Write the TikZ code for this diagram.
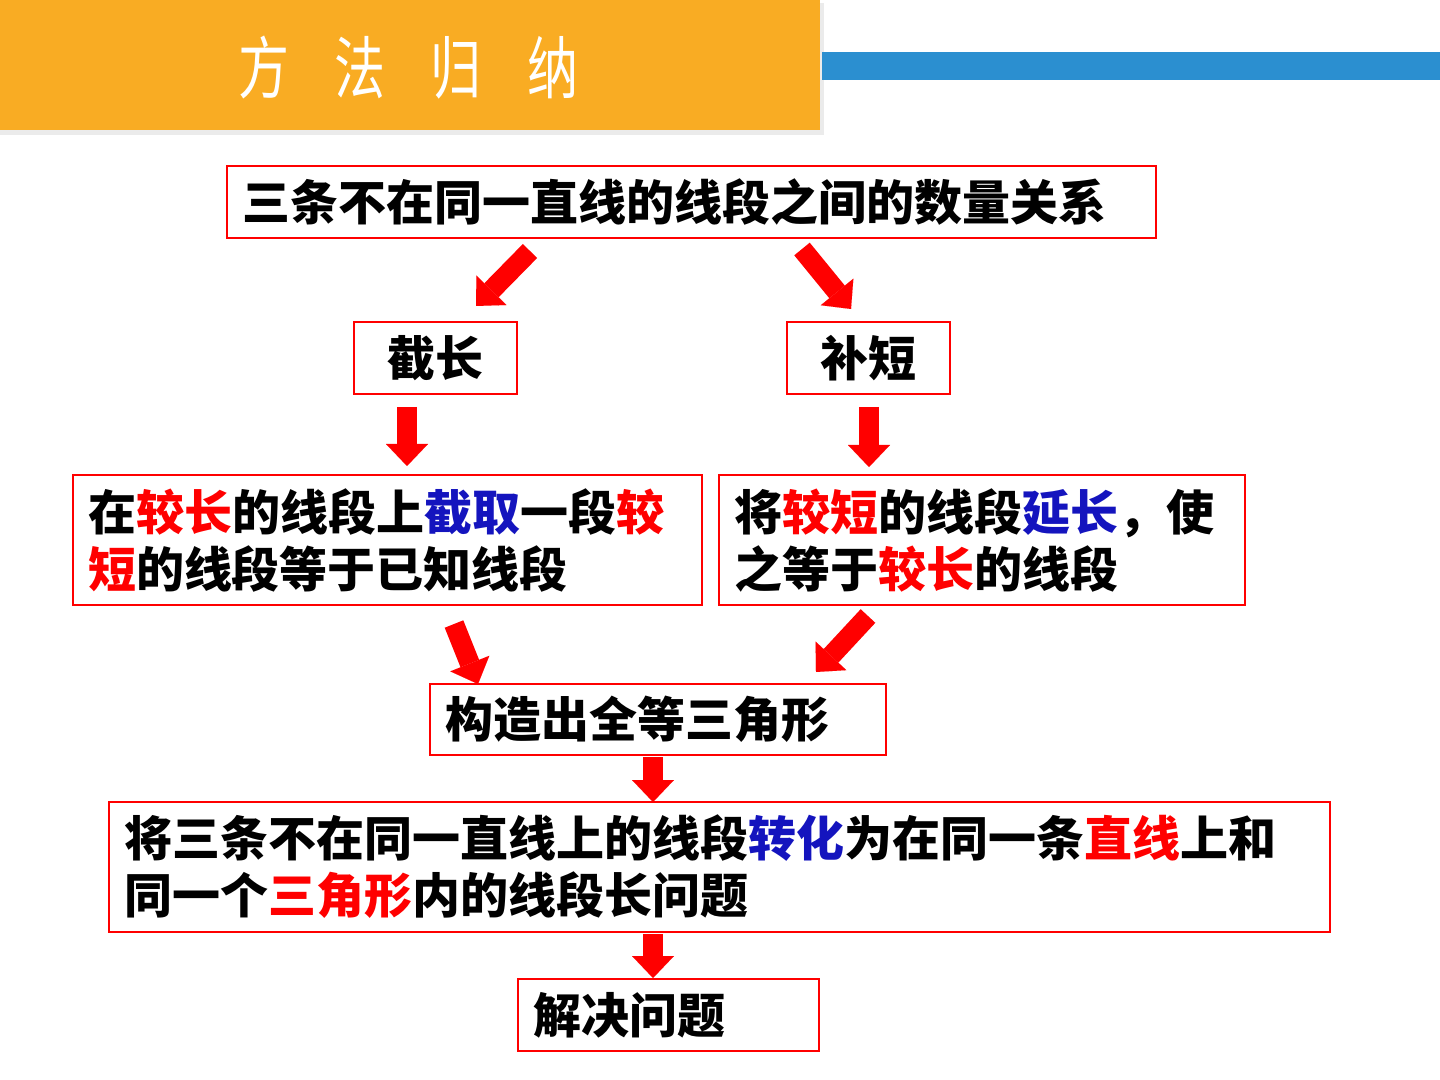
\documentclass[tikz,border=0pt]{standalone}
\usepackage{fontspec}
\setmainfont{Noto Sans CJK SC}
\newfontfamily\cjk{Noto Sans CJK SC}
\usetikzlibrary{arrows.meta}
\definecolor{borange}{RGB}{249,172,35}
\definecolor{bblue}{RGB}{43,143,208}
\definecolor{tred}{RGB}{255,0,0}
\definecolor{tblue}{RGB}{20,20,190}
\newcommand\rd[1]{\textcolor{tred}{#1}}
\newcommand\bl[1]{\textcolor{tblue}{#1}}
\begin{document}
\begin{tikzpicture}[x=0.5pt,y=-0.5pt,
 box/.style={draw=tred, line width=0.75pt, inner xsep=7.5pt, inner ysep=0pt, align=left,
   font=\cjk\bfseries\fontsize{24pt}{28.5pt}\selectfont, text=black},
 barrow/.style={draw=tred, line width=10pt, -{Triangle[width=21pt 0, length=11pt 0, line width=0.01pt]}},
 ttl/.style={text=white, font=\cjk\fontsize{34pt}{34pt}\selectfont, inner sep=0pt}
]
\useasboundingbox (0,0) rectangle (1440,1080);
% header
\fill[black!8] (0,3) rectangle (824,135);
\fill[borange] (0,0) rectangle (820,130);
\fill[bblue] (822,52) rectangle (1440,80);
\node[ttl] (t1) at (264,68) {\scalebox{0.75}[1]{方}};
\node[ttl] (t2) at (360,68) {\scalebox{0.75}[1]{法}};
\node[ttl] (t3) at (456,68) {\scalebox{0.75}[1]{归}};
\node[ttl] (t4) at (553,68) {\scalebox{0.75}[1]{纳}};
% boxes
\node[box, minimum width=464.5pt, minimum height=36pt, text width=449.5pt] (b1) at (691.5,202)
  {三条不在同一直线的线段之间的数量关系};
\node[box, minimum width=81.5pt, minimum height=36pt, align=center, inner xsep=0pt] (b2) at (435.5,358) {截长};
\node[box, minimum width=81.5pt, minimum height=36pt, align=center, inner xsep=0pt] (b3) at (868.5,358) {补短};
\node[box, minimum width=314.5pt, minimum height=65pt, text width=299.5pt] (b4) at (387.5,540)
  {在\rd{较长}的线段上\bl{截取}一段\rd{较}\\\rd{短}的线段等于已知线段};
\node[box, minimum width=263pt, minimum height=65pt, text width=248pt] (b5) at (982,540)
  {将\rd{较短}的线段\bl{延长}，使\\之等于\rd{较长}的线段};
\node[box, minimum width=228pt, minimum height=35.5pt, text width=213pt] (b6) at (658,719.5)
  {构造出全等三角形};
\node[box, minimum width=610.5pt, minimum height=65pt, text width=595.5pt] (b7) at (719.5,867)
  {将三条不在同一直线上的线段\bl{转化}为在同一条\rd{直线}上和\\同一个\rd{三角形}内的线段长问题};
\node[box, minimum width=150.5pt, minimum height=36pt, text width=135.5pt] (b8) at (668.5,1015)
  {解决问题};
% arrows
\coordinate (a1s) at (530,251); \coordinate (a1e) at (476,306);
\coordinate (a2s) at (802,249); \coordinate (a2e) at (851,309);
\coordinate (a3s) at (407,407); \coordinate (a3e) at (407,466);
\coordinate (a4s) at (869,407); \coordinate (a4e) at (869,467);
\coordinate (a5s) at (454,624); \coordinate (a5e) at (478,684);
\coordinate (a6s) at (868,616); \coordinate (a6e) at (816,672);
\coordinate (a7s) at (653,757); \coordinate (a7e) at (653,802);
\coordinate (a8s) at (653,934); \coordinate (a8e) at (653,978);
\foreach \i in {1,...,8} {\draw[barrow] (a\i s) -- (a\i e);}
\end{tikzpicture}
\end{document}
